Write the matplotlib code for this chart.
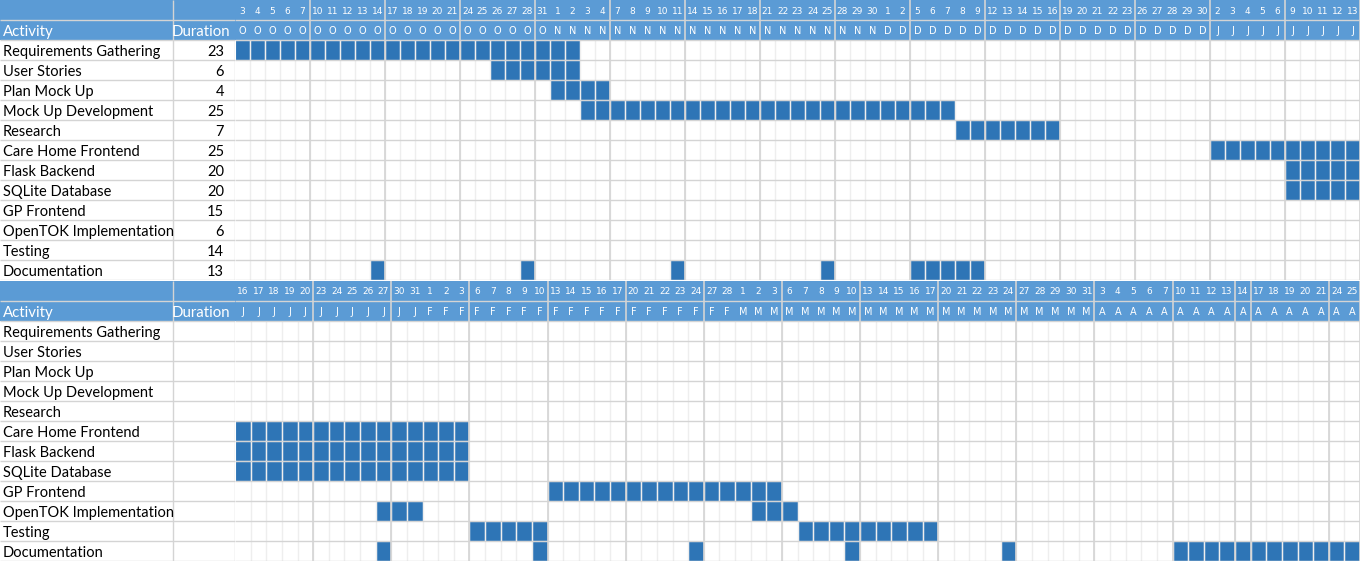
import matplotlib.pyplot as plt

activities = ["Requirements Gathering", "User Stories", "Plan Mock Up", "Mock Up Development",
              "Research", "Care Home Frontend", "Flask Backend", "SQLite Database",
              "GP Frontend", "OpenTOK Implementation", "Testing", "Documentation"]
durations = [23, 6, 4, 25, 7, 25, 20, 20, 15, 6, 14, 13]

# day numbers per working week, and the month letter under each day
top_weeks = [[3, 4, 5, 6, 7], [10, 11, 12, 13, 14], [17, 18, 19, 20, 21], [24, 25, 26, 27, 28],
             [31, 1, 2, 3, 4], [7, 8, 9, 10, 11], [14, 15, 16, 17, 18], [21, 22, 23, 24, 25],
             [28, 29, 30, 1, 2], [5, 6, 7, 8, 9], [12, 13, 14, 15, 16], [19, 20, 21, 22, 23],
             [26, 27, 28, 29, 30], [2, 3, 4, 5, 6], [9, 10, 11, 12, 13]]
top_months = ["OOOOO", "OOOOO", "OOOOO", "OOOOO", "ONNNN", "NNNNN", "NNNNN", "NNNNN",
              "NNNDD", "DDDDD", "DDDDD", "DDDDD", "DDDDD", "JJJJJ", "JJJJJ"]

bottom_weeks = [[16, 17, 18, 19, 20], [23, 24, 25, 26, 27], [30, 31, 1, 2, 3], [6, 7, 8, 9, 10],
                [13, 14, 15, 16, 17], [20, 21, 22, 23, 24], [27, 28, 1, 2, 3], [6, 7, 8, 9, 10],
                [13, 14, 15, 16, 17], [20, 21, 22, 23, 24], [27, 28, 29, 30, 31], [3, 4, 5, 6, 7],
                [10, 11, 12, 13], [14], [17, 18, 19, 20, 21], [24, 25]]
bottom_months = ["JJJJJ", "JJJJJ", "JJFFF", "FFFFF", "FFFFF", "FFFFF", "FFMMM", "MMMMM",
                 "MMMMM", "MMMMM", "MMMMM", "AAAAA", "AAAA", "A", "AAAAA", "AA"]

# filled cells per activity: (first column, number of columns)
top_bars = [[(0, 23)], [(17, 6)], [(21, 4)], [(23, 25)], [(48, 7)], [(65, 10)], [(70, 5)],
            [(70, 5)], [], [], [], [(9, 1), (19, 1), (29, 1), (39, 1), (45, 5)]]
bottom_bars = [[], [], [], [], [], [(0, 15)], [(0, 15)], [(0, 15)], [(20, 15)],
               [(9, 3), (33, 3)], [(15, 5), (36, 9)],
               [(9, 1), (19, 1), (29, 1), (39, 1), (49, 1), (60, 12)]]

HEAD = '#5B9BD5'
BAR = '#2E75B6'
GRID = '#D4D4D4'
LIGHT = '#EEEEEE'
W, H = 1360, 565
LEFT = 235
FONT = 'Lato'


def draw_panel(fig, top_px, weeks, months, bars, show_duration):
    nrows = len(activities) + 2
    y0 = 1 - (top_px + 280) / H
    hgt = 280 / H

    # left table (activity + duration)
    tax = fig.add_axes([0, y0, LEFT / W, hgt])
    tax.set_xlim(0, LEFT)
    tax.set_ylim(nrows, 0)
    tax.axis('off')
    tax.axhspan(0, 2, color=HEAD, lw=0)
    tax.hlines(1, 0, LEFT, color=GRID, lw=1)
    tax.vlines(173, 0, nrows, color=GRID, lw=1)
    tax.vlines(LEFT - 0.5, 2, nrows, color=GRID, lw=1)
    tax.hlines(range(2, nrows + 1), 0, LEFT, color=GRID, lw=1)
    tax.text(3, 1.6, 'Activity', color='white', fontsize=10.8, family=FONT, va='center')
    tax.text(230, 1.6, 'Duration', color='white', fontsize=10.8, family=FONT,
             va='center', ha='right')
    for i, name in enumerate(activities):
        tax.text(3, i + 2.62, name, fontsize=10.5, family=FONT, va='center')
        if show_duration:
            tax.text(224, i + 2.62, str(durations[i]), fontsize=10.5, family=FONT,
                     va='center', ha='right')

    # gantt grid
    ncols = sum(len(w) for w in weeks)
    ax = fig.add_axes([LEFT / W, y0, (W - LEFT) / W, hgt])
    ax.set_xlim(0, ncols)
    ax.set_ylim(nrows, 0)
    ax.axis('off')
    ax.axhspan(0, 2, color=HEAD, lw=0)
    ax.hlines(1, 0, ncols, color=GRID, lw=1)
    ax.vlines(range(1, ncols), 2, nrows, color=LIGHT, lw=1)
    ax.hlines(range(2, nrows + 1), 0, ncols, color=GRID, lw=1)

    col = 0
    for days, letters in zip(weeks, months):
        for d, m in zip(days, letters):
            ax.text(col + 0.5, 0.55, str(d), color='white', fontsize=6.5,
                    ha='center', va='center')
            ax.text(col + 0.5, 1.55, m, color='white', fontsize=7,
                    ha='center', va='center')
            col += 1
        ax.vlines(col, 0, nrows, color=GRID, lw=1.2)

    for i, segs in enumerate(bars):
        for start, n in segs:
            ax.barh([i + 2.5] * n, 1, left=list(range(start, start + n)), height=1,
                    color=BAR, edgecolor='white', linewidth=0.8)


fig = plt.figure(figsize=(W / 100, H / 100), dpi=100)
draw_panel(fig, 0, top_weeks, top_months, top_bars, True)
draw_panel(fig, 281, bottom_weeks, bottom_months, bottom_bars, False)
fig.savefig('out.png', dpi=100)
